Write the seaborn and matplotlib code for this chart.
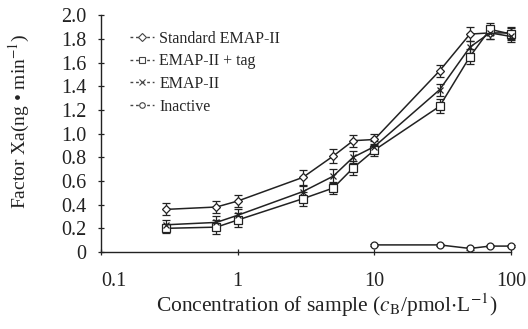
import numpy as np
import pandas as pd
import matplotlib
matplotlib.use("Agg")
import matplotlib.pyplot as plt
import seaborn as sns
from matplotlib.lines import Line2D

conc = [0.3, 0.7, 1, 3, 5, 7, 10, 30, 50, 70, 100]
standard = [0.36, 0.38, 0.43, 0.63, 0.81, 0.94, 0.95, 1.53, 1.84, 1.85, 1.85]
standard_err = [0.05, 0.05, 0.05, 0.06, 0.06, 0.05, 0.05, 0.05, 0.06, 0.05, 0.05]
tagged = [0.20, 0.21, 0.27, 0.45, 0.54, 0.71, 0.86, 1.23, 1.65, 1.88, 1.84]
tagged_err = [0.04, 0.06, 0.06, 0.06, 0.05, 0.06, 0.05, 0.06, 0.06, 0.05, 0.05]
emap = [0.23, 0.25, 0.31, 0.51, 0.64, 0.80, 0.89, 1.37, 1.73, 1.85, 1.82]
emap_err = [0.04, 0.05, 0.05, 0.05, 0.06, 0.05, 0.05, 0.05, 0.05, 0.05, 0.05]
inactive_conc = [10, 30, 50, 70, 100]
inactive = [0.06, 0.06, 0.03, 0.05, 0.05]
inactive_err = [0.01, 0.01, 0.01, 0.01, 0.01]

names = ["Standard EMAP-II", "EMAP-II + tag", "EMAP-II", "Inactive"]
yticks = [0, 0.2, 0.4, 0.6, 0.8, 1.0, 1.2, 1.4, 1.6, 1.8, 2.0]
yticklabels = ["0", "0.2", "0.4", "0.6", "0.8", "1.0", "1.2", "1.4", "1.6", "1.8", "2.0"]
xticks = [0.1, 1, 10, 100]
xticklabels = ["0.1", "1", "10", "100"]

sns.set_theme(style="ticks")
plt.rcParams["font.family"] = ["Liberation Serif", "DejaVu Serif"]
plt.rcParams["mathtext.fontset"] = "stix"

fig = plt.figure(figsize=(5.28, 3.29), dpi=100)
ax = fig.add_axes([0.191, 0.234, 0.777, 0.72])

series = [
    (names[0], conc, standard, standard_err, "D", 4.5, "white"),
    (names[1], conc, tagged, tagged_err, "s", 6, "white"),
    (names[2], conc, emap, emap_err, "x", 5, "none"),
    (names[3], inactive_conc, inactive, inactive_err, "o", 5, "white"),
]

for name, xs, ys, es, mk, ms, fc in series:
    df = pd.DataFrame({"x": xs, "y": ys})
    ax.errorbar(xs, ys, yerr=es, fmt="none", ecolor="#222222", elinewidth=0.9,
                capsize=3, capthick=0.9, zorder=2, clip_on=False)
    sns.lineplot(data=df, x="x", y="y", ax=ax, color="#222222", linewidth=1.1,
                 marker=mk, markersize=ms, markerfacecolor=fc,
                 markeredgecolor="#222222", markeredgewidth=0.9, zorder=3,
                 clip_on=False)

ax.set_xscale("log")
ax.set_xlim(0.1, 100)
ax.set_ylim(0, 2.0)
ax.set_xticks(xticks)
ax.set_xticklabels(xticklabels)
ax.xaxis.set_minor_locator(matplotlib.ticker.NullLocator())
ax.set_yticks(yticks)
ax.set_yticklabels(yticklabels)
ax.tick_params(axis="both", direction="inout", length=5, width=0.9,
               labelsize=14.5, colors="#222222")
ax.tick_params(axis="x", pad=12)
ax.tick_params(axis="y", pad=8)
ax.get_xticklabels()[0].set_ha("left")
for s in ["top", "right"]:
    ax.spines[s].set_visible(False)
for s in ["left", "bottom"]:
    ax.spines[s].set_color("#222222")
    ax.spines[s].set_linewidth(1.0)

ax.set_xlabel(r"Concentration of sample ($c_\mathrm{B}$/pmol$\cdot$L$^{-1}$)",
              fontsize=15.5, color="#222222", va="center")
ax.xaxis.set_label_coords(0.551, -0.224)
ax.set_ylabel("Factor Xa(ng • min$^{-1}$)", fontsize=14, color="#222222", va="center")
ax.yaxis.set_label_coords(-0.198, 0.55)

handles = []
for name, xs, ys, es, mk, ms, fc in series:
    handles.append(Line2D([0], [0], color="#444444", linestyle=(0, (2, 2)), linewidth=1.0,
                          marker=mk, markersize=4, markerfacecolor=fc,
                          markeredgecolor="#444444", markeredgewidth=0.8))
ax.legend(handles, names, loc="upper left", bbox_to_anchor=(0.055, 0.962),
          frameon=False, fontsize=11.5, handlelength=1.5, handletextpad=0.35,
          labelspacing=0.42, borderaxespad=0)

fig.savefig("out.png", dpi=100)
